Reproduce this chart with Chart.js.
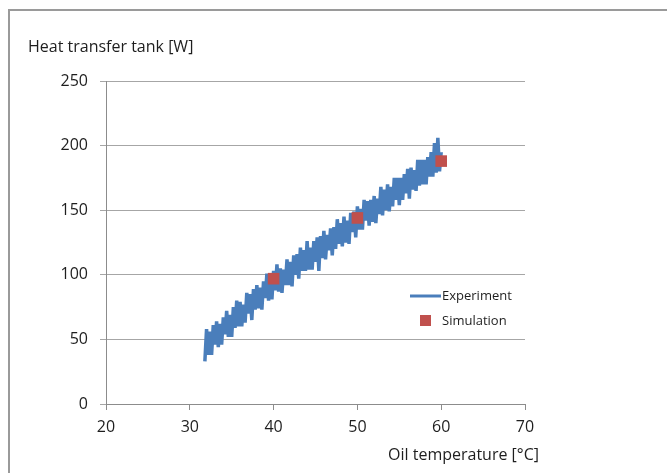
<!DOCTYPE html>
<html>
<head>
<meta charset="utf-8">
<script src="https://cdn.jsdelivr.net/npm/chart.js@4.4.0/dist/chart.umd.min.js"></script>
<style>
  html, body { margin: 0; padding: 0; background: #fff; }
  #wrap { position: relative; width: 667px; height: 473px; }
  #frame { position: absolute; left: 8px; top: 9px; right: -10px; bottom: -10px;
           border-left: 2px solid #9a9a9a; border-top: 2px solid #9a9a9a; }
  canvas { position: absolute; left: 0; top: 0; }
</style>
</head>
<body>
<div id="wrap">
  <div id="frame"></div>
  <canvas id="heatChart" width="667" height="473"></canvas>
</div>
<script>
const expTemp = [
  31.8, 32.0, 32.2, 32.4, 32.6, 32.8, 33.0, 33.2, 33.4, 33.6,
  33.8, 34.0, 34.2, 34.4, 34.6, 34.8, 35.0, 35.2, 35.4, 35.6,
  35.8, 36.0, 36.2, 36.4, 36.6, 36.8, 37.0, 37.2, 37.4, 37.6,
  37.8, 38.0, 38.2, 38.4, 38.6, 38.8, 39.0, 39.2, 39.4, 39.6,
  39.8, 40.0, 40.2, 40.4, 40.6, 40.8, 41.0, 41.2, 41.4, 41.6,
  41.8, 42.0, 42.2, 42.4, 42.6, 42.8, 43.0, 43.2, 43.4, 43.6,
  43.8, 44.0, 44.2, 44.4, 44.6, 44.8, 45.0, 45.2, 45.4, 45.6,
  45.8, 46.0, 46.2, 46.4, 46.6, 46.8, 47.0, 47.2, 47.4, 47.6,
  47.8, 48.0, 48.2, 48.4, 48.6, 48.8, 49.0, 49.2, 49.4, 49.6,
  49.8, 50.0, 50.2, 50.4, 50.6, 50.8, 51.0, 51.2, 51.4, 51.6,
  51.8, 52.0, 52.2, 52.4, 52.6, 52.8, 53.0, 53.2, 53.4, 53.6,
  53.8, 54.0, 54.2, 54.4, 54.6, 54.8, 55.0, 55.2, 55.4, 55.6,
  55.8, 56.0, 56.2, 56.4, 56.6, 56.8, 57.0, 57.2, 57.4, 57.6,
  57.8, 58.0, 58.2, 58.4, 58.6, 58.8, 59.0, 59.2, 59.4, 59.6,
  59.8, 60.0
];
const expHeat = [
  33, 58, 38, 56, 38, 61, 46, 64, 44, 62,
  46, 67, 54, 72, 52, 69, 52, 75, 59, 80,
  60, 79, 60, 77, 63, 86, 70, 85, 65, 89,
  73, 92, 74, 90, 73, 95, 82, 101, 80, 98,
  81, 103, 88, 108, 87, 105, 86, 104, 92, 112,
  92, 110, 91, 115, 100, 116, 97, 121, 103, 119,
  103, 126, 104, 121, 104, 126, 110, 129, 103, 130,
  113, 134, 112, 131, 119, 136, 115, 137, 120, 143,
  124, 140, 122, 145, 125, 142, 124, 148, 133, 149,
  129, 153, 135, 151, 135, 158, 142, 157, 138, 158,
  141, 161, 140, 159, 147, 168, 146, 166, 150, 170,
  149, 168, 153, 175, 158, 175, 154, 175, 158, 178,
  163, 182, 159, 183, 166, 181, 165, 189, 169, 189,
  170, 189, 170, 191, 176, 195, 176, 202, 179, 206,
  180, 195
];

// Simulation points
const simTemp = [40, 50, 60];
const simHeat = [97, 144, 188];

// Axis ticks
const xTicks = [20, 30, 40, 50, 60, 70];
const yTicks = [0, 50, 100, 150, 200, 250];

const FONT = '"Open Sans", "Liberation Sans", sans-serif';
const BLUE = '#4a7ebb';
const RED = '#c0504d';
const TEXT = '#1e1e1e';

// axis titles and in-plot legend
const decorPlugin = {
    id: 'decor',
    afterDraw(chart) {
        const ctx = chart.ctx;
        const area = chart.chartArea;
        ctx.save();
        ctx.fillStyle = TEXT;
        ctx.font = '16px ' + FONT;
        ctx.textBaseline = 'middle';
        ctx.textAlign = 'left';
        ctx.fillText('Heat transfer tank [W]', 28, 47);
        ctx.textAlign = 'right';
        ctx.fillText('Oil temperature [°C]', 539, 455);

        // legend
        ctx.font = '13px ' + FONT;
        ctx.textAlign = 'left';
        ctx.strokeStyle = BLUE;
        ctx.lineWidth = 3;
        ctx.beginPath();
        ctx.moveTo(area.right - 115, 296);
        ctx.lineTo(area.right - 84, 296);
        ctx.stroke();
        ctx.fillText('Experiment', area.right - 83, 296);
        ctx.fillStyle = RED;
        ctx.fillRect(area.right - 105, 315, 11, 11);
        ctx.fillStyle = TEXT;
        ctx.fillText('Simulation', area.right - 83, 321);
        ctx.restore();
    }
};

new Chart(document.getElementById('heatChart'), {
    type: 'scatter',
    data: {
        datasets: [{
            label: 'Experiment',
            data: expTemp.map((t, i) => ({ x: t, y: expHeat[i] })),
            showLine: true,
            borderColor: BLUE,
            backgroundColor: BLUE,
            borderWidth: 3.5,
            pointRadius: 0,
            tension: 0,
            order: 2
        }, {
            label: 'Simulation',
            data: simTemp.map((t, i) => ({ x: t, y: simHeat[i] })),
            pointStyle: 'rect',
            pointRadius: 8.2,
            pointBorderWidth: 0,
            backgroundColor: RED,
            borderColor: RED,
            order: 1
        }]
    },
    options: {
        responsive: false,
        animation: false,
        layout: { padding: { left: 0, right: 142, top: 81, bottom: 0 } },
        plugins: {
            legend: { display: false },
            tooltip: { enabled: false }
        },
        scales: {
            x: {
                type: 'linear',
                min: xTicks[0],
                max: xTicks[xTicks.length - 1],
                afterBuildTicks: axis => { axis.ticks = xTicks.map(v => ({ value: v })); },
                afterFit: axis => { axis.height = 69; },
                grid: { drawOnChartArea: false, drawTicks: true, tickLength: 6, color: '#8c8c8c' },
                border: { color: '#8c8c8c', width: 1 },
                ticks: { color: TEXT, font: { family: FONT, size: 16 }, padding: 8, maxRotation: 0 }
            },
            y: {
                min: yTicks[0],
                max: yTicks[yTicks.length - 1],
                afterBuildTicks: axis => { axis.ticks = yTicks.map(v => ({ value: v })); },
                afterFit: axis => { axis.width = 106; },
                grid: { drawTicks: true, tickLength: 6, color: '#a6a6a6' },
                border: { color: '#8c8c8c', width: 1 },
                ticks: { color: TEXT, font: { family: FONT, size: 16 }, padding: 12 }
            }
        }
    },
    plugins: [decorPlugin]
});
</script>
</body>
</html>
